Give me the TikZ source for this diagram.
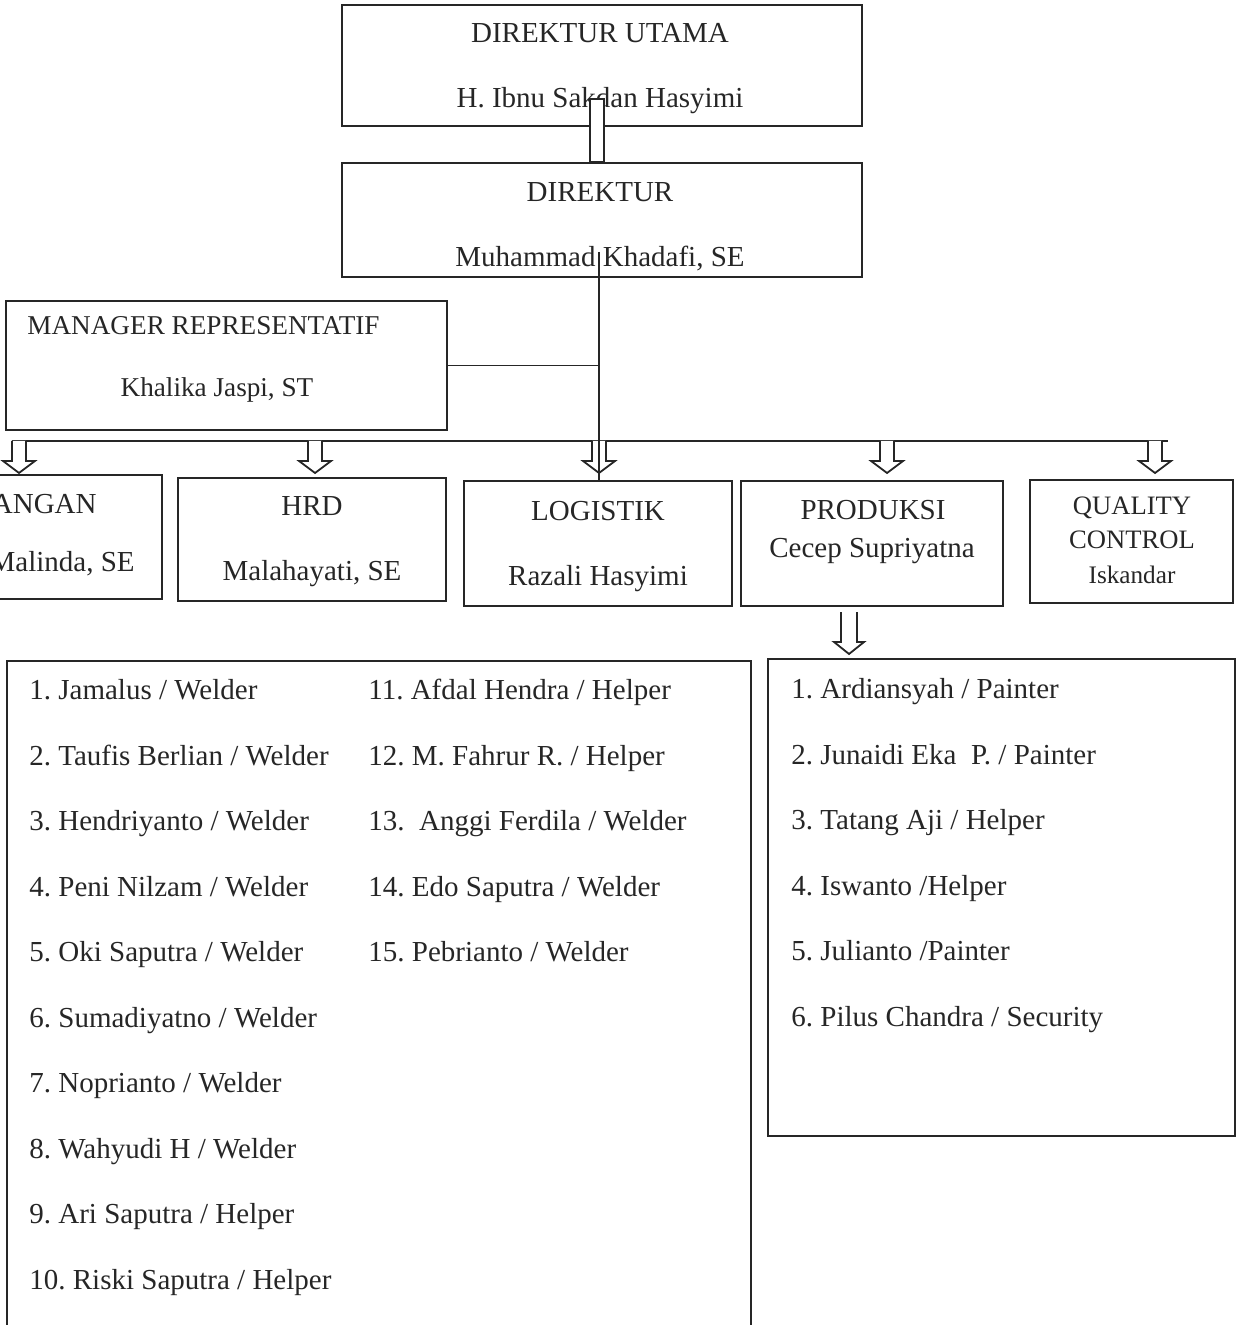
\documentclass[tikz,border=0pt]{standalone}
\usepackage{fontspec}
\setmainfont{Liberation Serif}
\usepackage{tikz}
\usetikzlibrary{positioning}
\frenchspacing
\tikzstyle{chart} = [x = 0.5pt, y = -0.5pt]
\definecolor{lineColor}{RGB}{38,38,38}
\tikzstyle{boxStyle} = [draw=lineColor, line width=0.9pt, inner sep=0pt]
\tikzstyle{lineStyle} = [draw=lineColor, line width=0.9pt]
\tikzstyle{hollowStyle} = [draw=lineColor, fill=white, line width=0.9pt]
\tikzstyle{boxText} = [font=\fontsize{14.5}{17}\selectfont, text=lineColor, inner sep=0pt, anchor=base]
\tikzstyle{smallText} = [boxText, font=\fontsize{13.3}{15}\selectfont]
\tikzstyle{itemText} = [boxText, anchor=base west]
\newcommand{\orgBox}[5]{\node [boxStyle, minimum width={(#4-(#2))*0.5pt}, minimum height={(#5-(#3))*0.5pt}] (#1) at ({(#2+#4)/2}, {(#3+#5)/2}) {};}
\newcommand{\hollowArrow}[5]{\draw [hollowStyle] (#1) ++(-#2,0) -- ++(0,#3) -- ++(#2-#4,0) -- ++(#4,#5) -- ++(#4,-#5) -- ++(#2-#4,0) -- ++(0,-#3);}

\begin{document}
\begin{tikzpicture}[chart]
    \useasboundingbox (0,0) rectangle (1240,1325);
    \clip (0,0) rectangle (1240,1325);
    \orgBox{utama}{342}{5}{862}{126}
    \orgBox{dir}{342}{163}{862}{277}
    \orgBox{mgr}{6}{301}{447}{430}
    \orgBox{keu}{-106}{475}{162}{599}
    \orgBox{hrd}{178}{478}{446}{601}
    \orgBox{log}{464}{481}{732}{606}
    \orgBox{prod}{741}{481}{1003}{606}
    \orgBox{qc}{1030}{480}{1233}{603}
    \orgBox{welders}{7}{661}{751}{1345}
    \orgBox{painters}{768}{659}{1235}{1136}
    \node [boxText] (utamaTitle) at (600,43) {DIREKTUR UTAMA};
    \node [boxText] (utamaName) at (600,108) {H. Ibnu Sakdan Hasyimi};
    \node [boxText] (dirTitle) at (600,202) {DIREKTUR};
    \node [boxText] (dirName) at (600,267) {Muhammad Khadafi, SE};
    \node [smallText, font=\fontsize{13.6}{15}\selectfont, anchor=base west] (mgrTitle) at (27,335) {MANAGER REPRESENTATIF};
    \node [smallText, font=\fontsize{13.6}{15}\selectfont] (mgrName) at (217,397) {Khalika Jaspi, ST};
    \node [boxText, anchor=base east] (keuTitle) at (97,513) {KEUANGAN};
    \node [boxText, anchor=base east] (keuName) at (135,571) {Malinda, SE};
    \node [boxText] (hrdTitle) at (312,516) {HRD};
    \node [boxText] (hrdName) at (312,580) {Malahayati, SE};
    \node [boxText] (logTitle) at (598,520) {LOGISTIK};
    \node [boxText] (logName) at (598,585) {Razali Hasyimi};
    \node [boxText] (prodTitle) at (873,519) {PRODUKSI};
    \node [boxText] (prodName) at (872,557) {Cecep Supriyatna};
    \node [smallText] (qcTitle) at (1132,515) {QUALITY};
    \node [smallText] (qcTitleB) at (1132,548) {CONTROL};
    \node [smallText, font=\fontsize{12.6}{15}\selectfont] (qcName) at (1132,583) {Iskandar};
    \foreach [count=\i] \txt in {{1. Jamalus / Welder}, {2. Taufis Berlian / Welder}, {3. Hendriyanto / Welder}, {4. Peni Nilzam / Welder}, {5. Oki Saputra / Welder}, {6. Sumadiyatno / Welder}, {7. Noprianto / Welder}, {8. Wahyudi H / Welder}, {9. Ari Saputra / Helper}, {10. Riski Saputra / Helper}} {
      \node [itemText] (weld\i) at (29, 699.5 + 65.5 * \i - 65.5) {\txt};
    }
    \foreach [count=\i] \txt in {{11. Afdal Hendra / Helper}, {12. M. Fahrur R. / Helper}, {13.\ \ Anggi Ferdila / Welder}, {14. Edo Saputra / Welder}, {15. Pebrianto / Welder}} {
      \node [itemText] (weldB\i) at (368, 699.5 + 65.5 * \i - 65.5) {\txt};
    }
    \foreach [count=\i] \txt in {{1. Ardiansyah / Painter}, {2. Junaidi Eka\ \ P. / Painter}, {3. Tatang Aji / Helper}, {4. Iswanto /Helper}, {5. Julianto /Painter}, {6. Pilus Chandra / Security}} {
      \node [itemText] (paint\i) at (791, 698.5 + 65.6 * \i - 65.6) {\txt};
    }
    \coordinate (utamaLink) at (597,99);
    \draw [hollowStyle] ([xshift=-3.5pt]utamaLink) rectangle ([xshift=3.5pt]utamaLink |- dir.north);
    \coordinate (busW) at (12,441);
    \coordinate (busE) at (1168,441);
    \draw [lineStyle] (busW) -- (busE);
    \foreach \ax/\an in {19/keu, 315/hrd, 599/log, 887/prod, 1155/qc} {
      \coordinate (bus-\an) at (\ax,441);
      \hollowArrow{bus-\an}{7}{20}{16}{12}
    }
    \coordinate (dirLink) at (599,252);
    \draw [lineStyle] (dirLink) -- (dirLink |- log.north);
    \draw [lineStyle] (mgr.east) -- (mgr.east -| dirLink);
    \coordinate (prodLink) at (849,612);
    \hollowArrow{prodLink}{8}{30}{15}{12}
\end{tikzpicture}
\end{document}
